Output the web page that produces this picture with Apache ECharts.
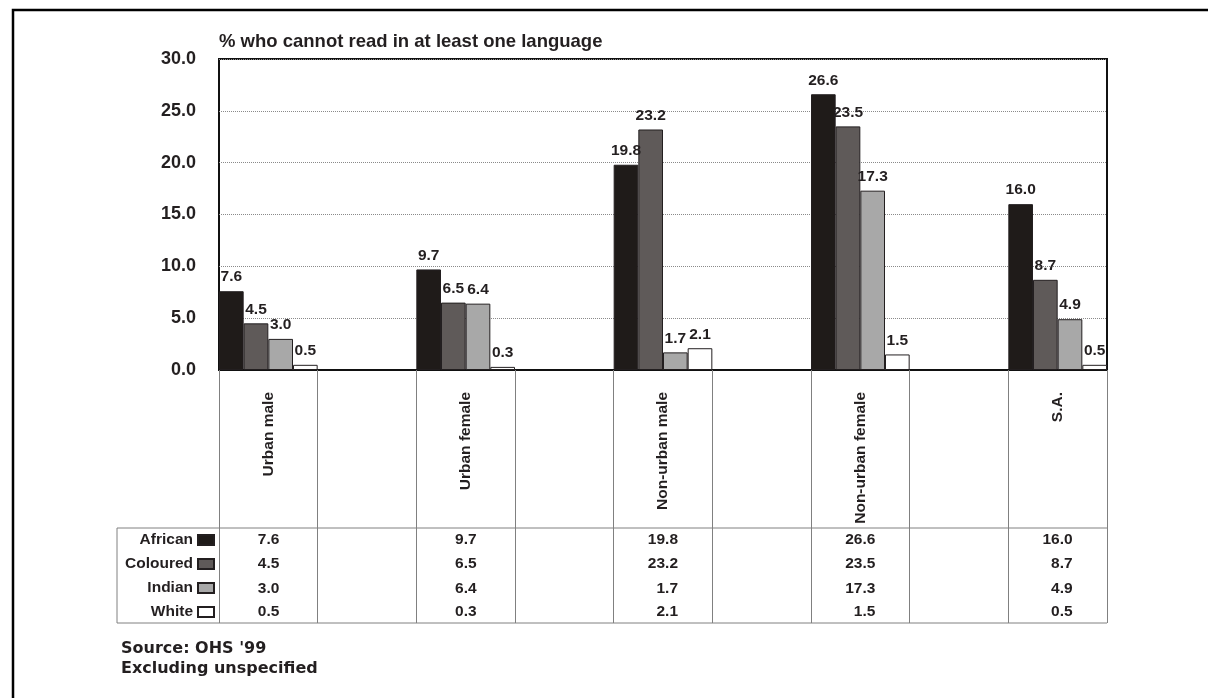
<!DOCTYPE html>
<html>
<head>
<meta charset="utf-8">
<script src="https://cdn.jsdelivr.net/npm/echarts@6/dist/echarts.min.js"></script>
<style>
  html, body { margin: 0; padding: 0; background: #fff; }
  #chart { width: 1208px; height: 698px; }
</style>
</head>
<body>
<div id="chart"></div>
<script>
// ---- data ----
const categories = ['Urban male', 'Urban female', 'Non-urban male', 'Non-urban female', 'S.A.'];
const seriesNames = ['African', 'Coloured', 'Indian', 'White'];
const african  = [7.6, 9.7, 19.8, 26.6, 16.0];
const coloured = [4.5, 6.5, 23.2, 23.5, 8.7];
const indian   = [3.0, 6.4, 1.7, 17.3, 4.9];
const white    = [0.5, 0.3, 2.1, 1.5, 0.5];
const yMin = 0, yMax = 30, yInterval = 5;
const titleText = '% who cannot read in at least one language';
const sourceLines = ["Source: OHS '99", 'Excluding unspecified'];

// ---- layout / style ----
const FONT = 'Liberation Sans, Arial, Helvetica, sans-serif';
const WIDE = 'DejaVu Sans, Verdana, sans-serif';
const TXT = '#231f20';
const colors = ['#1f1b19', '#5f5a59', '#a8a8a8', '#ffffff'];
const PLOT_L = 219, PLOT_R = 1107, PLOT_T = 59, PLOT_B = 370;
const TABLE_L = 117, TABLE_T = 528, TABLE_B = 623;
const W = 1208, H = 698;
const rowCenters = [540, 564, 589, 612];

// categories with blank spacer slots between them
function spread(arr, blank) {
  const out = [];
  arr.forEach((v, i) => { out.push(v); if (i < arr.length - 1) out.push(blank); });
  return out;
}
const slotCats = spread(categories, '');
const seriesData = [african, coloured, indian, white];

const chart = echarts.init(document.getElementById('chart'), null, { renderer: 'canvas' });

const xAxes = [{
  type: 'category',
  gridIndex: 0,
  data: slotCats,
  position: 'bottom',
  axisLine: { show: true, lineStyle: { color: '#111', width: 2 } },
  axisTick: { show: true, interval: 0, length: TABLE_B - PLOT_B, lineStyle: { color: '#808080', width: 1 } },
  axisLabel: {
    interval: 0, rotate: 90, margin: 22,
    fontFamily: FONT, fontWeight: 'bold', fontSize: 15.5, color: TXT
  },
  splitLine: { show: false }
}];

seriesData.forEach((arr, r) => {
  const strs = spread(arr.map(v => v.toFixed(1)), '');
  xAxes.push({
    type: 'category',
    gridIndex: 0,
    data: strs,
    position: 'bottom',
    offset: rowCenters[r] - 8 - PLOT_B,
    axisLine: { show: false },
    axisTick: { show: false },
    splitLine: { show: false },
    axisLabel: {
      interval: 0, margin: 0,
      formatter: function (val, idx) {
        if (!val) return '';
        const ci = Math.floor(idx / 2);
        const wide = seriesData.some(a => a[ci] >= 10);
        return (wide ? '{w4|' : '{w3|') + val + '}';
      },
      rich: {
        w4: { width: 30, align: 'right', fontFamily: FONT, fontWeight: 'bold', fontSize: 15.5, lineHeight: 16, color: TXT },
        w3: { width: 22, align: 'right', fontFamily: FONT, fontWeight: 'bold', fontSize: 15.5, lineHeight: 16, color: TXT }
      }
    }
  });
});

const series = seriesNames.map((name, i) => ({
  name: name,
  type: 'bar',
  xAxisIndex: 0,
  yAxisIndex: 0,
  data: spread(seriesData[i], null),
  barGap: '0%',
  barCategoryGap: '0%',
  itemStyle: { color: colors[i], borderColor: '#231f20', borderWidth: 1 },
  label: {
    show: true, position: 'top', distance: 6,
    fontFamily: FONT, fontWeight: 'bold', fontSize: 15.5, color: TXT,
    formatter: p => (p.value == null ? '' : Number(p.value).toFixed(1))
  },
  emphasis: { disabled: true }
}));

const option = {
  animation: false,
  backgroundColor: '#ffffff',
  textStyle: { fontFamily: FONT },
  title: {
    text: titleText,
    left: PLOT_L, top: 32, padding: 0,
    textStyle: { fontFamily: FONT, fontWeight: 'bold', fontSize: 18.5, color: TXT, lineHeight: 20 }
  },
  legend: {
    data: seriesNames,
    orient: 'vertical',
    align: 'right',
    right: W - 215,
    top: rowCenters[0] - 8,
    padding: 0,
    itemGap: 8,
    itemWidth: 16,
    itemHeight: 10,
    icon: 'rect',
    selectedMode: false,
    textStyle: { fontFamily: FONT, fontWeight: 'bold', fontSize: 15.5, color: TXT, lineHeight: 16 }
  },
  grid: [{
    left: PLOT_L, right: W - PLOT_R, top: PLOT_T, bottom: H - PLOT_B,
    show: true, borderColor: '#111', borderWidth: 2, backgroundColor: 'transparent'
  }],
  xAxis: xAxes,
  yAxis: [{
    type: 'value', gridIndex: 0,
    min: yMin, max: yMax, interval: yInterval,
    axisLine: { show: false },
    axisTick: { show: false },
    axisLabel: {
      margin: 23, fontFamily: FONT, fontWeight: 'bold', fontSize: 18, color: TXT,
      formatter: v => v.toFixed(1)
    },
    splitLine: { show: true, lineStyle: { type: 'dotted', color: '#8a8a8a', width: 1 } }
  }],
  series: series,
  graphic: [
    { type: 'rect', silent: true, z: 0,
      shape: { x: 13, y: 10, width: 1400, height: 900 },
      style: { fill: 'none', stroke: '#000', lineWidth: 2.5 } },
    { type: 'line', silent: true,
      shape: { x1: TABLE_L, y1: TABLE_T, x2: PLOT_R, y2: TABLE_T },
      style: { stroke: '#808080', lineWidth: 1 } },
    { type: 'line', silent: true,
      shape: { x1: TABLE_L, y1: TABLE_B, x2: PLOT_R, y2: TABLE_B },
      style: { stroke: '#808080', lineWidth: 1 } },
    { type: 'line', silent: true,
      shape: { x1: TABLE_L, y1: TABLE_T, x2: TABLE_L, y2: TABLE_B },
      style: { stroke: '#808080', lineWidth: 1 } },
    { type: 'text', silent: true,
      left: 121, top: 639,
      style: { text: sourceLines.join('\n'), font: 'bold 16px ' + WIDE, fill: TXT, lineHeight: 20 } }
  ]
};

chart.setOption(option);
</script>
</body>
</html>
